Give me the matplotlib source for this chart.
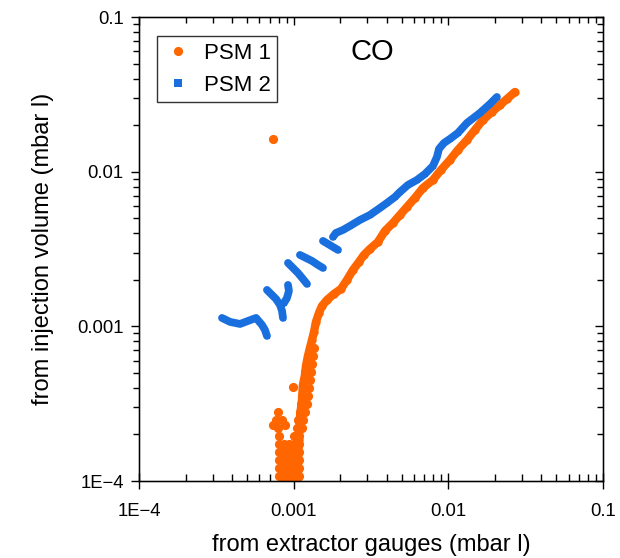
import matplotlib
matplotlib.use("Agg")
import matplotlib.pyplot as plt
from matplotlib.lines import Line2D
from matplotlib.ticker import LogLocator, NullFormatter
import numpy as np

plt.rcParams['font.family'] = ['Liberation Sans', 'DejaVu Sans']

nan = np.nan

# PSM 1 (orange) - main trace
psm1_x = [2.694e-2, 2.393e-2, 2.156e-2, 1.913e-2, 1.673e-2, 1.485e-2, 1.319e-2, 1.153e-2,
          1.024e-2, 8.96e-3, 7.95e-3, 6.85e-3, 6.08e-3, 5.40e-3, 4.866e-3, 4.385e-3,
          3.891e-3, 3.506e-3, 3.113e-3, 2.847e-3, 2.643e-3, 2.417e-3, 2.211e-3, 2.022e-3,
          1.822e-3, 1.642e-3, 1.524e-3, 1.457e-3, 1.393e-3, 1.353e-3, 1.313e-3, 1.274e-3,
          1.237e-3, 1.201e-3, 1.183e-3, 1.148e-3, 1.131e-3, 1.098e-3, 1.082e-3, 1.066e-3,
          1.050e-3]
psm1_y = [3.275e-2, 2.951e-2, 2.698e-2, 2.432e-2, 2.158e-2, 1.861e-2, 1.603e-2, 1.381e-2,
          1.190e-2, 1.026e-2, 8.838e-3, 7.844e-3, 6.761e-3, 5.913e-3, 5.250e-3, 4.661e-3,
          4.137e-3, 3.512e-3, 3.165e-3, 2.894e-3, 2.608e-3, 2.314e-3, 1.995e-3, 1.745e-3,
          1.620e-3, 1.481e-3, 1.354e-3, 1.221e-3, 1.068e-3, 9.20e-4, 8.17e-4, 7.25e-4,
          6.44e-4, 5.55e-4, 4.85e-4, 4.18e-4, 3.34e-4, 2.60e-4, 1.84e-4, 1.368e-4,
          1.016e-4]

# PSM 1 - the packed cloud of points at the low end, plus strays
psm1_cloud_x = [
    # stem, two columns
    1.353e-3, 1.274e-3, 1.333e-3, 1.237e-3, 1.313e-3, 1.219e-3, 1.294e-3, 1.183e-3,
    1.274e-3, 1.166e-3, 1.256e-3, 1.148e-3, 1.237e-3, 1.131e-3, 1.219e-3, 1.115e-3,
    # upper part of the blob
    7.92e-4, 1.098e-3, 1.183e-3,
    7.69e-4, 8.41e-4, 1.066e-3, 1.148e-3,
    7.92e-4, 1.050e-3, 1.131e-3,
    8.04e-4, 1.005e-3, 1.082e-3,
    # lower part of the blob
    8.04e-4, 8.66e-4, 9.32e-4, 1.005e-3, 1.082e-3,
    8.04e-4, 8.66e-4, 9.32e-4, 1.005e-3, 1.082e-3,
    8.04e-4, 8.66e-4, 9.32e-4, 1.005e-3, 1.082e-3,
    8.04e-4, 8.66e-4, 9.32e-4, 1.005e-3, 1.082e-3,
    8.04e-4, 8.66e-4, 9.32e-4, 1.005e-3, 1.082e-3,
    8.41e-4, 9.46e-4, 1.050e-3,
    # in-between points of the blob
    8.35e-4, 9.0e-4, 9.7e-4, 1.045e-3,
    8.35e-4, 9.0e-4, 9.7e-4, 1.045e-3,
    8.35e-4, 9.0e-4, 9.7e-4, 1.045e-3,
    8.35e-4, 9.0e-4, 9.7e-4, 1.045e-3,
    # strays
    9.90e-4, 7.35e-4, 8.78e-4, 7.35e-4]
psm1_cloud_y = [
    7.25e-4, 7.25e-4, 6.44e-4, 6.44e-4, 5.715e-4, 5.715e-4, 5.072e-4, 5.072e-4,
    4.50e-4, 4.50e-4, 3.998e-4, 3.998e-4, 3.549e-4, 3.549e-4, 3.151e-4, 3.151e-4,
    2.797e-4, 2.797e-4, 2.797e-4,
    2.48e-4, 2.48e-4, 2.48e-4, 2.48e-4,
    2.204e-4, 2.204e-4, 2.204e-4,
    1.956e-4, 1.956e-4, 1.956e-4,
    1.737e-4, 1.737e-4, 1.737e-4, 1.737e-4, 1.737e-4,
    1.542e-4, 1.542e-4, 1.542e-4, 1.542e-4, 1.542e-4,
    1.368e-4, 1.368e-4, 1.368e-4, 1.368e-4, 1.368e-4,
    1.215e-4, 1.215e-4, 1.215e-4, 1.215e-4, 1.215e-4,
    1.079e-4, 1.079e-4, 1.079e-4, 1.079e-4, 1.079e-4,
    1.00e-4, 1.00e-4, 1.00e-4,
    1.64e-4, 1.64e-4, 1.64e-4, 1.64e-4,
    1.45e-4, 1.45e-4, 1.45e-4, 1.45e-4,
    1.29e-4, 1.29e-4, 1.29e-4, 1.29e-4,
    1.145e-4, 1.145e-4, 1.145e-4, 1.145e-4,
    4.06e-4, 2.31e-4, 2.31e-4, 1.63e-2]

# PSM 2 (blue) - separate strokes split by nan
psm2_x = [3.44e-4, 3.88e-4, 4.50e-4, 5.07e-4, 5.71e-4, 6.24e-4, 6.52e-4, 6.72e-4, nan,
          6.72e-4, 7.13e-4, 7.69e-4, 8.16e-4, 8.41e-4, 8.53e-4, nan,
          9.19e-4, 9.32e-4, 9.05e-4, 8.66e-4, nan,
          9.19e-4, 9.90e-4, 1.066e-3, 1.148e-3, 1.219e-3, nan,
          1.098e-3, 1.201e-3, 1.313e-3, 1.436e-3, 1.547e-3, nan,
          1.547e-3, 1.667e-3, 1.795e-3, 1.934e-3, nan,
          1.795e-3, 1.877e-3, 2.084e-3, 2.312e-3, 2.683e-3, 3.113e-3, 3.613e-3, 4.011e-3,
          4.517e-3, 4.866e-3, 5.482e-3, 6.266e-3, 7.06e-3, 7.95e-3, 8.44e-3, 8.70e-3,
          9.37e-3, 1.024e-2, 1.153e-2, 1.319e-2, 1.600e-2, 1.857e-2, 2.061e-2]
psm2_y = [1.133e-3, 1.068e-3, 1.036e-3, 1.084e-3, 1.133e-3, 1.021e-3, 9.48e-4, 8.67e-4, nan,
          1.719e-3, 1.620e-3, 1.503e-3, 1.375e-3, 1.258e-3, 1.133e-3, nan,
          1.852e-3, 1.694e-3, 1.526e-3, 1.416e-3, nan,
          2.570e-3, 2.385e-3, 2.214e-3, 2.025e-3, 1.880e-3, nan,
          2.894e-3, 2.768e-3, 2.647e-3, 2.494e-3, 2.385e-3, nan,
          3.565e-3, 3.409e-3, 3.260e-3, 3.118e-3, nan,
          3.784e-3, 4.017e-3, 4.201e-3, 4.457e-3, 4.873e-3, 5.250e-3, 5.826e-3, 6.276e-3,
          6.864e-3, 7.393e-3, 8.204e-3, 8.838e-3, 9.665e-3, 1.089e-2, 1.245e-2, 1.403e-2,
          1.533e-2, 1.628e-2, 1.780e-2, 2.065e-2, 2.396e-2, 2.739e-2, 3.040e-2]

tick_vals = [1e-4, 1e-3, 1e-2, 1e-1]
tick_text = ['1E\u22124', '0.001', '0.01', '0.1']

orange = '#ff6600'
blue = '#1a6fdf'

fig = plt.figure(figsize=(6.2, 5.58), dpi=100)
ax = fig.add_axes([139/620, 1-481/558, 464/620, 464/558])

# dense point traces: a thick line under the markers gives the packed look
ax.plot(psm1_x, psm1_y, '-', color=orange, lw=6.0, solid_capstyle='round', solid_joinstyle='round')
ax.plot(psm1_x, psm1_y, 'o', color=orange, ms=6.0, mew=0)
ax.plot(psm1_cloud_x, psm1_cloud_y, 'o', color=orange, ms=6.6, mew=0)
ax.plot(psm2_x, psm2_y, '-', color=blue, lw=5.6, solid_capstyle='round', solid_joinstyle='round')
ax.plot(psm2_x, psm2_y, 's', color=blue, ms=3.6, mew=0)

ax.set_xscale('log')
ax.set_yscale('log')
ax.set_xlim(1e-4, 0.1)
ax.set_ylim(1e-4, 0.1)
ax.set_xticks(tick_vals, tick_text)
ax.set_yticks(tick_vals, tick_text)
ax.xaxis.set_minor_locator(LogLocator(base=10, subs=np.arange(2, 10)))
ax.yaxis.set_minor_locator(LogLocator(base=10, subs=np.arange(2, 10)))
ax.xaxis.set_minor_formatter(NullFormatter())
ax.yaxis.set_minor_formatter(NullFormatter())

ax.tick_params(axis='x', which='major', direction='inout', length=12, width=1, labelsize=13.3, pad=10)
ax.tick_params(axis='x', which='minor', direction='in', length=5, width=1)
ax.tick_params(axis='y', which='major', direction='out', length=6, width=1, labelsize=13.3, pad=5)
ax.tick_params(axis='y', which='minor', direction='out', length=4, width=1)
for s in ax.spines.values():
    s.set_linewidth(1)

# mirrored ticks on top and right, pointing inwards
top = ax.twiny()
top.set_xscale('log')
top.set_xlim(ax.get_xlim())
top.set_xticks(tick_vals)
top.xaxis.set_minor_locator(LogLocator(base=10, subs=np.arange(2, 10)))
top.tick_params(axis='x', which='major', direction='in', length=6, width=1, labeltop=False)
top.tick_params(axis='x', which='minor', direction='in', length=4, width=1, labeltop=False)
right = ax.twinx()
right.set_yscale('log')
right.set_ylim(ax.get_ylim())
right.set_yticks(tick_vals)
right.yaxis.set_minor_locator(LogLocator(base=10, subs=np.arange(2, 10)))
right.tick_params(axis='y', which='major', direction='in', length=6, width=1, labelright=False)
right.tick_params(axis='y', which='minor', direction='in', length=4, width=1, labelright=False)

ax.set_xlabel('from extractor gauges (mbar l)', fontsize=17, labelpad=10)
ax.set_ylabel('from injection volume (mbar l)', fontsize=17, labelpad=17)

ax.text(0.502, 0.925, 'CO', transform=ax.transAxes, fontsize=21, ha='center', va='center')

handles = [Line2D([], [], ls='none', marker='o', color=orange, ms=6.6, mew=0),
           Line2D([], [], ls='none', marker='s', color=blue, ms=5.2, mew=0)]
leg = ax.legend(handles, ['PSM 1', 'PSM 2'], loc='upper left', bbox_to_anchor=(0.039, 0.959),
                borderaxespad=0, fontsize=16, frameon=True, fancybox=False, edgecolor='black',
                handlelength=1.3, handletextpad=0.5, borderpad=0.3, labelspacing=0.5)
leg.get_frame().set_linewidth(1)

fig.savefig('out.png', dpi=100)
